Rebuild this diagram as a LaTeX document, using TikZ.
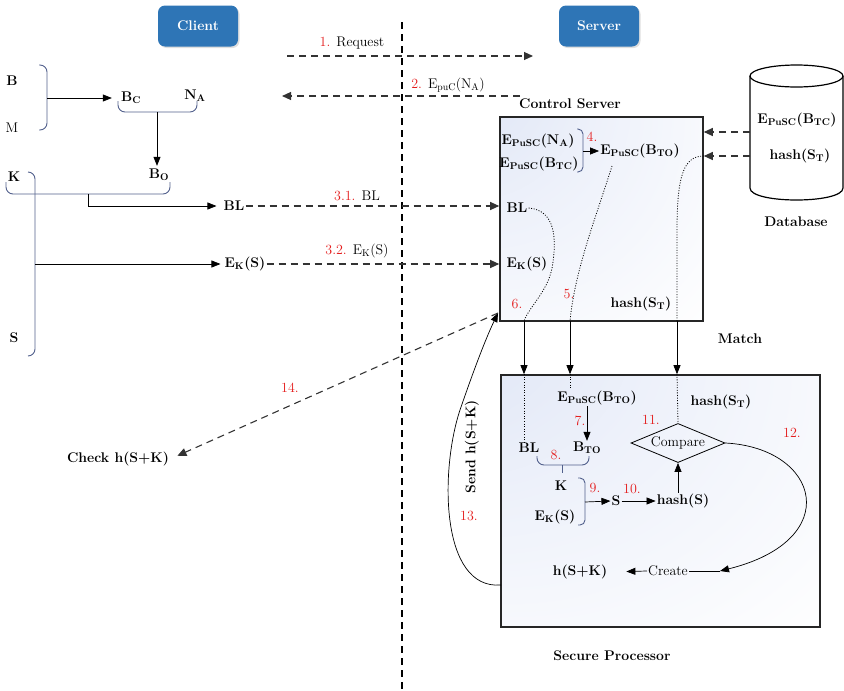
\documentclass[tikz,border=0pt]{standalone}
\usepackage{tikz}
\usetikzlibrary{arrows.meta,positioning,calc,shapes.geometric,shadows}
\definecolor{hdblue}{RGB}{46,117,182}
\definecolor{numred}{RGB}{228,28,28}
\definecolor{brcblue}{RGB}{82,96,140}
\definecolor{boxtint}{RGB}{216,224,244}
% light tint spreading out from the top left corner of a box
\pgfdeclareradialshading{cornerfade}{\pgfpoint{-44bp}{44bp}}{color(0bp)=(boxtint); color(30bp)=(boxtint!45!white); color(62bp)=(white); color(100bp)=(white)}
\newcommand\dfont{\fontsize{14}{16}\selectfont}
\newcommand\nr[1]{{\color{numred}#1}}
\tikzset{
  btn/.style={rounded corners=7pt, fill=hdblue, text=white, font=\dfont\bfseries,
    minimum width=80pt, minimum height=41pt,
    drop shadow={opacity=0.25, shadow xshift=1.5pt, shadow yshift=-1.5pt}},
  lbl/.style={font=\dfont\bfseries, inner sep=1pt},
  txt/.style={font=\dfont, inner sep=1pt},
  num/.style={font=\dfont, text=numred, inner sep=1pt},
  darr/.style={-{Triangle[length=9pt,width=8pt]}, dash pattern=on 7pt off 5pt, line width=1.1pt, black!80},
  sarr/.style={-{Triangle[length=9pt,width=7pt]}, line width=0.7pt},
  dotl/.style={dash pattern=on 1pt off 1.6pt, line width=0.8pt},
  brc/.style={brcblue, line width=0.9pt, rounded corners=7pt},
  pbox/.style={draw=black!85, line width=1.6pt, shade, shading=cornerfade},
  divl/.style={dash pattern=on 7pt off 5pt, line width=1.1pt},
}
\begin{document}
\begin{tikzpicture}[x=1pt,y=-1pt]
\useasboundingbox (0,0) rectangle (844,691);

% headers and the client/server border
\node[btn] (client) at (198,26) {Client};
\node[btn] (server) at (599,26) {Server};
\draw[divl] (402,22) -- (402,691);

% processing boxes
\node[pbox, minimum width=203pt, minimum height=204pt] (cs) at (601.5,219) {};
\node[pbox, minimum width=319pt, minimum height=252pt] (sp) at (660.5,501) {};
\node[lbl] (cst) at (570,104) {Control Server};
\node[lbl] (spt) at (612,656) {Secure Processor};
\node[lbl] (mtc) at (740,339) {Match};

% client side
\node[lbl] (kb) at (12,81) {B};
\node[txt] (km) at (12,128) {M};
\draw[brc] (39,65) -- (47,65) -- (47,130) -- (39,130);
\coordinate (bmtip) at (47,98);
\node[lbl] (bc) at (131,98) {B\textsubscript{C}};
\node[lbl] (na) at (195,96) {N\textsubscript{A}};
\draw[sarr, shorten >=8pt] (bmtip) -- (bc.west);
\draw[brc] (118,101) -- (118,112) -- (197,112) -- (197,101);
\coordinate (bcstem) at (157,112);
\node[lbl] (bo) at (159,175) {B\textsubscript{O}};
\draw[sarr, shorten >=2pt] (bcstem) -- (bcstem |- bo.north);

\node[lbl] (kk) at (14,177) {K};
\node[lbl] (ks) at (14,338) {S};
\draw[brc] (6,182) -- (6,194) -- (170,194) -- (170,182);
\draw[brc] (28,172) -- (35,172) -- (35,356) -- (28,356);
\node[lbl] (blc) at (234,206) {BL};
\node[lbl] (ekc) at (245,264) {E\textsubscript{K}(S)};
\coordinate (kstem) at (88,194);
\coordinate (sstem) at (35,264);
\draw[sarr, shorten >=6pt] (kstem) |- (blc.west);
\draw[sarr, shorten >=3pt] (sstem) -- (ekc.west);

% messages between client and server
\coordinate (rq0) at (287,56);
\coordinate (rq1) at (533,56);
\draw[darr] (rq0) -- (rq1);
\node[txt] (rql) at (352,43) {\nr{1.} Request};
\coordinate (na0) at (520,96);
\coordinate (na1) at (282,96);
\draw[darr] (na0) -- (na1);
\node[txt] (nal) at (448,85) {\nr{2.} E\textsubscript{puC}(N\textsubscript{A})};

% control server
\node[lbl] (cna) at (538,141) {E\textsubscript{PuSC}(N\textsubscript{A})};
\node[lbl] (cbtc) at (539,164) {E\textsubscript{PuSC}(B\textsubscript{TC})};
\draw[brc, rounded corners=5pt] (577,129) -- (583,129) -- (583,172) -- (577,172);
\coordinate (cbr) at (583,151);
\node[lbl] (cbto) at (640,151) {E\textsubscript{PuSC}(B\textsubscript{TO})};
\draw[sarr] (cbr) -- (cbto.west);
\node[num] (n4) at (592,137) {4.};
\node[lbl] (bls) at (517,208) {BL};
\node[lbl] (eks) at (527,264) {E\textsubscript{K}(S)};
\node[num] (n6) at (517,304) {6.};
\node[num] (n5) at (569,294) {5.};
\node[lbl] (hst) at (641,304) {hash(S\textsubscript{T})};

\draw[darr] (blc.east) -- (blc.east -| cs.west);
\draw[darr] (ekc.east) -- (ekc.east -| cs.west);
\node[txt] (l31) at (357,196) {\nr{3.1.} BL};
\node[txt] (l32) at (357,251) {\nr{3.2.} E\textsubscript{K}(S)};

% database
\fill[white] (750,76) -- (750,188) .. controls (750,204) and (843,204) .. (843,188) -- (843,76) -- cycle;
\draw[line width=1.2pt] (750,76) -- (750,188) .. controls (750,204) and (843,204) .. (843,188) -- (843,76);
\draw[line width=1.2pt] (796.5,76) ellipse [x radius=46.5, y radius=11];
\node[lbl] (dbtc) at (797,120) {E\textsubscript{PuSC}(B\textsubscript{TC})};
\node[lbl] (dbst) at (800,156) {hash(S\textsubscript{T})};
\node[lbl] (dbl) at (796,222) {Database};
\coordinate (dba) at (750,132);
\coordinate (dbb) at (750,156);
\draw[darr] (dba) -- (dba -| cs.east);
\draw[darr] (dbb) -- (dbb -| cs.east);

% values carried down to the secure processor
\coordinate (p6) at (524,321);
\coordinate (p5) at (570,321);
\coordinate (pm) at (677,321);
\coordinate (p5s) at (612,166);
\draw[dotl] (bls.east) .. controls (556,210) and (556,240) .. (553,262) .. controls (550,290) and (530,305) .. (p6);
\draw[dotl] (p5s) .. controls (595,220) and (575,270) .. (p5);
\draw[dotl] (dbb -| cs.east) .. controls (684,156) and (677,175) .. (677,230) -- (pm);
\draw[sarr] (p6) -- (p6 |- sp.north);
\draw[sarr] (p5) -- (p5 |- sp.north);
\draw[sarr] (pm) -- (pm |- sp.north);

% secure processor
\node[lbl] (sbto) at (597,398) {E\textsubscript{PuSC}(B\textsubscript{TO})};
\node[lbl] (shst) at (721,402) {hash(S\textsubscript{T})};
\node[lbl] (sbl) at (529,448) {BL};
\node[lbl] (sbo) at (587,448) {B\textsubscript{TO}};
\draw[dotl] (p6 |- sp.north) -- (p6 |- sbl.north);
\draw[dotl] (p5 |- sp.north) -- (p5 |- sbto.north);
\node[num] (n7) at (580,421) {7.};
\draw[sarr] (sbo.north |- sbto.south) -- (sbo.north);
\node[num] (n8) at (556,455) {8.};
\draw[brc] (537,456) -- (537,465) -- (589,465) -- (589,456);
\draw[brc] (562,465) -- (562,473);
\node[lbl] (sk) at (561,486) {K};
\node[lbl] (sek) at (555,517) {E\textsubscript{K}(S)};
\draw[brc, rounded corners=5pt] (578,478) -- (585,478) -- (585,525) -- (578,525);
\coordinate (kbr) at (585,502);
\node[lbl] (ss) at (616,501) {S};
\draw[sarr] (kbr) -- (ss.west);
\node[num] (n9) at (595,488) {9.};
\node[lbl] (shs) at (683,501) {hash(S)};
\draw[sarr] (ss.east) -- (shs.west);
\node[num] (n10) at (632,489) {10.};
\node[draw, diamond, aspect=2.04, inner sep=0pt, minimum width=94pt, line width=0.8pt, font=\dfont] (cmp) at (678,443) {Compare};
\draw[dotl] (pm |- sp.north) -- (cmp.north);
\draw[sarr] (cmp.south |- shs.north) -- (cmp.south);
\node[num] (n11) at (651,420) {11.};
\node[num] (n12) at (792,433) {12.};
\coordinate (ce) at (720,571);
\draw[sarr] (cmp.east) .. controls (820,448) and (845,540) .. (ce);
\node[txt] (crt) at (668,571) {Create};
\node[lbl] (hsk) at (580,572) {h(S+K)};
\draw (ce) -- (crt.east);
\draw[sarr, shorten >=18pt] (crt.west) -- (hsk.east);

% result back to the client
\coordinate (sd0) at (501,585);
\coordinate (sd1) at (498,313);
\draw[sarr] (sd0) .. controls (440,590) and (440,470) .. (460,410) .. controls (472,375) and (485,340) .. (sd1);
\node[lbl, rotate=90] (snd) at (472,447) {Send h(S+K)};
\node[num] (n13) at (469,516) {13.};
\node[lbl] (chk) at (118,459) {Check h(S+K)};
\draw[darr, shorten >=8pt] (sd1) -- (chk.east);
\node[num] (n14) at (290,388) {14.};
\end{tikzpicture}
\end{document}
